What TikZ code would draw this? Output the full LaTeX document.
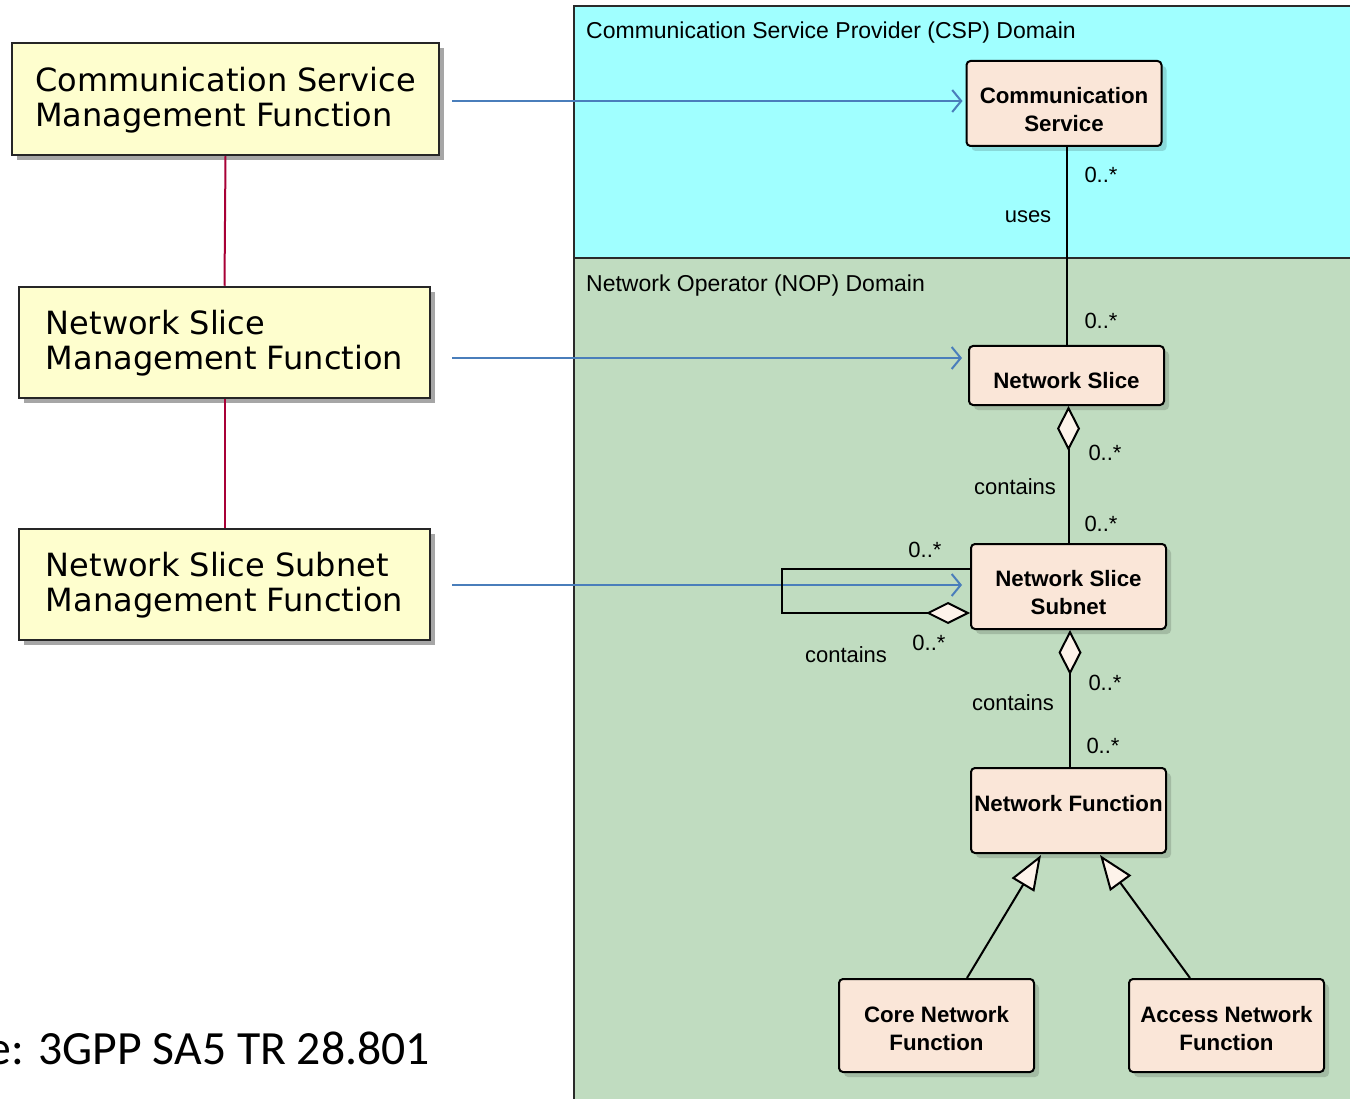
\documentclass[tikz,border=0pt]{standalone}
\usepackage{fontspec}
\setmainfont{Liberation Sans}
\newfontfamily\leftfont{DejaVu Sans}
\newfontfamily\umlfont{Liberation Sans}
\newfontfamily\notefont{Carlito}
\usetikzlibrary{arrows.meta,shadows,calc}
\definecolor{leftfill}{HTML}{FEFECE}
\definecolor{cspc}{HTML}{A0FFFF}
\definecolor{nopc}{HTML}{C0DCC0}
\definecolor{classc}{HTML}{FAE6D8}
\definecolor{tipc}{HTML}{FDF3EA}
\definecolor{crimsonc}{HTML}{A80036}
\definecolor{bluec}{HTML}{4A7EBB}
\definecolor{framec}{HTML}{2A2A2A}
% class text: last baseline placed #1 below the node centre
\newcommand{\ctext}[2]{\raisebox{-#1}[0pt][0pt]{\begin{tabular}[b]{@{}c@{}}#2\end{tabular}}}
% management text: last baseline placed #1 below the node centre
\newcommand{\mtext}[2]{\raisebox{-#1}[0pt][0pt]{\begin{tabular}[b]{@{}l@{}}#2\end{tabular}}}
\tikzset{
  mgmtbox/.style={draw=black!85, line width=2.5pt, fill=leftfill,
    font=\leftfont\fontsize{32}{35}\selectfont, inner sep=0pt,
    drop shadow={shadow xshift=5pt, shadow yshift=-5pt, fill=black, opacity=0.35}},
  classbox/.style={draw=black, line width=2pt, fill=classc, rounded corners=4pt,
    font=\umlfont\bfseries\fontsize{22.3}{28.5}\selectfont, inner sep=0pt,
    minimum width=195pt,
    drop shadow={shadow xshift=5pt, shadow yshift=-5pt, fill=black, opacity=0.15}},
  lbl/.style={font=\umlfont\fontsize{22}{26}\selectfont, inner sep=0pt},
  domtitle/.style={font=\umlfont\fontsize{23}{27}\selectfont, inner sep=0pt, anchor=west},
  hier/.style={draw=crimsonc, line width=2pt},
  mapto/.style={draw=bluec, line width=2pt, -{Straight Barb[length=9pt,width=22pt,line width=2pt]}},
  assoc/.style={draw=black, line width=2pt},
  aggr/.style={assoc, {Diamond[length=45pt,width=23pt,fill=tipc]}-},
  gen/.style={assoc, -{Triangle[length=35pt,width=26pt,fill=tipc]}}
}
\begin{document}
\begin{tikzpicture}[x=1pt,y=-1pt]
\useasboundingbox (0,0) rectangle (1350,1099);
\clip (0,0) rectangle (1350,1099);
\fill[white] (0,0) rectangle (1350,1099);

% domains
\fill[cspc] (574,6) rectangle (1360,258);
\fill[nopc] (574,258) rectangle (1360,1110);
\draw[framec, line width=2pt] (1360,6) -- (574,6) -- (574,1110);
\draw[framec, line width=2pt] (574,258) -- (1360,258);
\node[domtitle] (csptitle) at (586,33) {Communication Service Provider (CSP) Domain};
\node[domtitle] (noptitle) at (586,286) {Network Operator (NOP) Domain};

% management functions
\node[mgmtbox, minimum width=427pt, minimum height=112pt] (csmf) at (225.5,99)
  {\mtext{28pt}{Communication Service\\Management Function}};
\node[mgmtbox, minimum width=411pt, minimum height=111pt] (nsmf) at (224.5,342.5)
  {\mtext{27pt}{Network Slice\\Management Function}};
\node[mgmtbox, minimum width=411pt, minimum height=111pt] (nssmf) at (224.5,584.5)
  {\mtext{27pt}{Network Slice Subnet\\Management Function}};
\draw[hier] (csmf.south) -- (nsmf.north);
\draw[hier] (nsmf.south) -- (nssmf.north);

% classes
\node[classbox, minimum height=85pt] (cs) at (1064,103.5) {\ctext{28.4pt}{Communication\\Service}};
\node[classbox, minimum height=59pt] (ns) at (1066.5,375.5) {\ctext{13.4pt}{Network Slice}};
\node[classbox, minimum height=85pt] (nss) at (1068.5,586.5) {\ctext{28.4pt}{Network Slice\\Subnet}};
\node[classbox, minimum height=85pt] (nf) at (1068.5,810.5) {\ctext{0.8pt}{Network Function}};
\node[classbox, minimum height=93pt] (cnf) at (936.5,1025.5) {\ctext{25.4pt}{Core Network\\Function}};
\node[classbox, minimum height=93pt] (anf) at (1226.5,1025.5) {\ctext{25.4pt}{Access Network\\Function}};

% mapping arrows
\coordinate (m1) at (452,101);
\coordinate (m2) at (452,358);
\coordinate (m3) at (452,585);
\draw[mapto, shorten >=3pt] (m1) -- (m1 -| cs.west);
\draw[mapto, shorten >=6pt] (m2) -- (m2 -| ns.west);
\draw[mapto, shorten >=8pt] (m3) -- (m3 -| nss.west);

% associations
\draw[assoc] (ns.north) -- (ns.north |- cs.south);
\node[lbl] (u1) at (1101,175) {0..*};
\node[lbl] (u2) at (1028,217) {uses};
\node[lbl] (u3) at (1101,321) {0..*};

\draw[aggr] (nss.north |- ns.south) -- (nss.north);
\node[lbl] (c1) at (1105,453) {0..*};
\node[lbl] (c2) at (1015,487) {contains};
\node[lbl] (c3) at (1101,524) {0..*};

\coordinate (loopc) at (782,613);
\draw[assoc, -{Diamond[length=44pt,width=22pt,fill=tipc]}]
  ($(nss.west)+(0,-17.5)$) -| (loopc) -- ($(nss.west)+(0,26.5)$);
\node[lbl] (s1) at (925,550) {0..*};
\node[lbl] (s2) at (846,655) {contains};
\node[lbl] (s3) at (929,643) {0..*};

\draw[aggr] ($(nss.south)+(1.5,0)$) -- ($(nf.north)+(1.5,0)$);
\node[lbl] (f1) at (1105,683) {0..*};
\node[lbl] (f2) at (1013,703) {contains};
\node[lbl] (f3) at (1103,746) {0..*};

% generalisations
\draw[gen] ($(cnf.north)+(30.5,0)$) -- ($(nf.south)+(-27.5,1)$);
\draw[gen] ($(anf.north)+(-36.5,0)$) -- ($(nf.south)+(31.5,1)$);

% source note
\node[font=\notefont\fontsize{47.7}{56}\selectfont, inner sep=0pt, anchor=east] (src) at (430,1048)
  {e: 3GPP SA5 TR 28.801};
\end{tikzpicture}
\end{document}
